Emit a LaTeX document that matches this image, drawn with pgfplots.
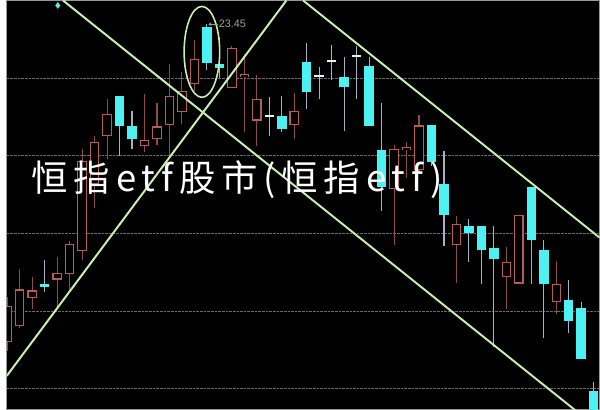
\documentclass[border=0pt]{standalone}
\usepackage{pgfplots}
\pgfplotsset{compat=1.18}
\usepackage{pgfplotstable}
\usetikzlibrary{arrows.meta}
\usepackage{fontspec}
\setmainfont{Liberation Sans}
\newfontfamily\cjk{Noto Sans CJK SC}[LetterSpace=16]
\definecolor{upred}{HTML}{B85A56}
\definecolor{wickred}{HTML}{8C4C48}
\definecolor{dncyan}{HTML}{4CF2F2}
\definecolor{wickblue}{HTML}{A8B0C8}
\definecolor{dojiw}{HTML}{D8F8F8}
\definecolor{lgreen}{HTML}{C8F0B0}
\definecolor{gridgray}{HTML}{6A6A6A}

% x = bar index, prices in arbitrary units (23.45 = marked high)
\pgfplotstableread{
x open high low close
0 20.24 20.69 20.14 20.59
1 20.40 20.97 20.37 20.76
2 20.68 20.89 20.57 20.75
4 20.87 21.09 20.59 20.93
5 20.93 21.26 20.76 21.22
6 21.16 22.19 21.06 22.06
7 21.84 22.32 21.59 22.25
8 22.32 22.69 22.09 22.54
11 22.22 22.74 22.16 22.27
12 22.29 22.65 22.23 22.41
13 22.43 23.05 22.13 22.72
14 22.57 22.97 22.44 22.77
15 22.85 23.29 22.77 23.09
18 22.81 23.23 22.81 23.20
19 22.92 23.15 22.36 22.94
20 22.48 22.94 22.22 22.69
23 22.43 22.75 22.29 22.57
31 21.79 22.23 21.22 22.18
32 22.18 22.26 21.89 22.20
33 21.98 22.53 21.94 22.42
36 21.22 21.51 20.83 21.42
40 20.90 21.19 20.57 21.04
41 20.83 21.52 20.83 21.51
44 20.64 21.05 20.52 20.82
}\upcandles

\pgfplotstableread{
x open high low close
3 20.82 21.06 20.74 20.79
9 22.72 22.72 22.12 22.42
10 22.42 22.57 22.19 22.29
16 23.42 23.45 22.99 23.06
17 23.05 23.32 22.91 23.01
22 22.52 22.72 22.36 22.39
24 23.07 23.26 22.59 22.76
27 22.92 23.12 22.37 22.81
29 23.03 23.12 22.42 22.42
30 22.18 22.65 21.56 21.80
34 22.43 22.43 22.01 22.06
35 21.83 22.17 21.20 21.52
37 21.41 21.48 21.04 21.34
38 21.41 21.41 20.82 21.16
39 21.18 21.41 20.18 21.07
42 21.80 21.80 20.82 21.27
43 21.16 21.27 20.27 20.82
45 20.66 20.86 20.32 20.45
46 20.58 20.64 20.06 20.06
47 19.74 19.83 19.49 19.49
}\dncandles

\pgfplotstableread{
x open high low close
21 22.53 22.71 22.32 22.51
25 22.94 23.02 22.69 22.92
26 23.09 23.24 22.89 23.07
28 23.14 23.23 22.69 23.12
}\dojis

\pgfplotsset{
  wick/.style={draw=none, mark=none, forget plot,
    error bars/.cd, y dir=both, y explicit, error mark=none,
    error bar style={draw=#1, solid, line width=1.1bp}},
  body/.style 2 args={draw=none, mark=none, forget plot,
    error bars/.cd, y dir=both, y explicit, error mark=none,
    error bar style={draw=#1, solid, line width=#2}},
}

\begin{document}
\begin{tikzpicture}
\begin{axis}[
  width=600bp, height=414bp, scale only axis,
  xmin=-0.0396, xmax=47.466, ymin=19.55, ymax=23.69,
  axis background/.style={fill=black},
  axis line style={draw=gray!80, line width=1bp},
  xtick=\empty,
  ytick={22.90,22.12,21.33,20.54,19.76},
  yticklabels={},
  major tick length=0pt,
  ymajorgrids,
  grid style={densely dotted, draw=gridgray, line width=0.7bp},
  clip=true,
]
% wicks
\addplot[wick=wickred] table[x=x, y expr={(\thisrow{high}+\thisrow{low})/2}, y error expr={(\thisrow{high}-\thisrow{low})/2}] {\upcandles};
\addplot[wick=wickblue] table[x=x, y expr={(\thisrow{high}+\thisrow{low})/2}, y error expr={(\thisrow{high}-\thisrow{low})/2}] {\dncandles};
\addplot[wick=wickblue] table[x=x, y expr={(\thisrow{high}+\thisrow{low})/2}, y error expr={(\thisrow{high}-\thisrow{low})/2}] {\dojis};
% up bodies: red outline, black inside
\addplot[body={upred}{9.6bp}] table[x=x, y expr={(\thisrow{open}+\thisrow{close})/2}, y error expr={abs(\thisrow{open}-\thisrow{close})/2+0.005}] {\upcandles};
\addplot[body={black}{7.4bp}] table[x=x, y expr={(\thisrow{open}+\thisrow{close})/2}, y error expr={max(abs(\thisrow{open}-\thisrow{close})/2-0.006,0)}] {\upcandles};
% down bodies: filled cyan
\addplot[body={dncyan}{9.6bp}] table[x=x, y expr={(\thisrow{open}+\thisrow{close})/2}, y error expr={abs(\thisrow{open}-\thisrow{close})/2}] {\dncandles};
\addplot[body={dojiw}{9.6bp}] table[x=x, y expr={(\thisrow{open}+\thisrow{close})/2}, y error expr={abs(\thisrow{open}-\thisrow{close})/2}] {\dojis};
% trend lines
\addplot[lgreen, line width=2bp, forget plot] coordinates {(4.473,23.69) (47.466,19.346)};
\addplot[lgreen, line width=2bp, forget plot] coordinates {(23.714,23.69) (47.466,21.29)};
\addplot[lgreen, line width=2bp, forget plot] coordinates {(-0.0396,19.89) (22.37,23.69)};
% small marker top-left
\addplot[only marks, mark=diamond*, mark size=3bp, color=dncyan, forget plot] coordinates {(4.05,23.64)};
% ellipse around the peak
\draw[lgreen, line width=1.6bp] (axis cs:15.60,23.17) ellipse [x radius=18bp, y radius=46bp];
% peak label
\draw[gray!80, line width=0.8bp, -{Stealth[length=3bp,width=4bp]}] (axis cs:16.90,23.45) -- (axis cs:16.12,23.45);
\node[anchor=west, inner sep=0.5bp, text=gray!75, font=\fontsize{11}{11}\selectfont] at (axis cs:16.90,23.45) {23.45};
% watermark
\node[anchor=west, inner sep=0pt, text=white, font=\cjk\fontsize{37}{37}\selectfont] at (axis cs:1.95,21.88) {恒指etf股市(恒指etf)};
\end{axis}
\end{tikzpicture}
\end{document}
